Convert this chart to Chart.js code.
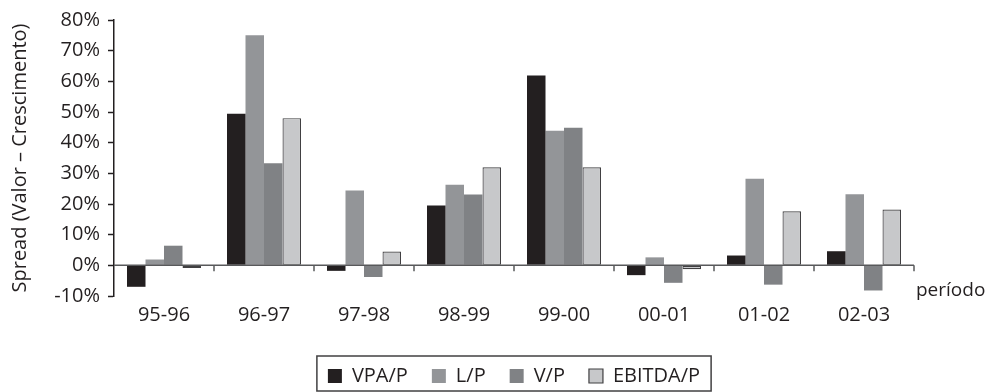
<!DOCTYPE html>
<html>
<head>
<meta charset="utf-8">
<script src="https://cdn.jsdelivr.net/npm/chart.js@4/dist/chart.umd.min.js"></script>
<style>
	html, body { margin: 0; padding: 0; background: #fff; }
	#wrap { width: 987px; height: 392px; }
</style>
</head>
<body>
<div id="wrap"><canvas id="spread-chart"></canvas></div>
<script>
var periodos = ["95-96", "96-97", "97-98", "98-99", "99-00", "00-01", "01-02", "02-03"];
var vpa_p    = [-7.0, 49.4, -1.8, 19.5, 61.9, -3.2,  3.2,  4.6];
var l_p      = [ 1.9, 75.0, 24.4, 26.3, 43.9,  2.6, 28.2, 23.2];
var v_p      = [ 6.4, 33.3, -3.8, 23.1, 44.9, -5.7, -6.3, -8.2];
var ebitda_p = [-0.9, 48.0,  4.5, 32.0, 32.0, -1.3, 17.6, 18.2];
var y_min = -10, y_max = 80, y_step = 10;

var fonte = "'Open Sans', 'DejaVu Sans', sans-serif";
var tinta = "#231f20";

// eixo do zero com marcas entre categorias, rotulo "período" e moldura da legenda
var eixo_zero = {
	id: 'eixoZero',
	afterDatasetsDraw: function(chart) {
		var ctx = chart.ctx;
		var x = chart.scales.x, y = chart.scales.y;
		var y0 = y.getPixelForValue(0);
		var larg = x.width / periodos.length;
		ctx.save();
		ctx.strokeStyle = "#58595b";
		ctx.lineWidth = 1.5;
		ctx.beginPath();
		ctx.moveTo(chart.chartArea.left, y0);
		ctx.lineTo(chart.chartArea.right, y0);
		for (var i = 0; i < periodos.length; i++) {
			var xt = x.getPixelForValue(i) + larg / 2;
			ctx.moveTo(xt, y0);
			ctx.lineTo(xt, y0 + 6);
		}
		ctx.stroke();

		ctx.fillStyle = tinta;
		ctx.font = "19px " + fonte;
		ctx.textAlign = "left";
		ctx.textBaseline = "alphabetic";
		ctx.fillText("período", chart.chartArea.right + 2, 296);
		ctx.restore();
	},
	afterDraw: function(chart) {
		var boxes = chart.legend.legendHitBoxes;
		if (!boxes || !boxes.length) return;
		var ult = boxes[boxes.length - 1];
		var ctx = chart.ctx;
		ctx.save();
		ctx.strokeStyle = "#414042";
		ctx.lineWidth = 1.5;
		ctx.strokeRect(boxes[0].left - 11, boxes[0].top - 10, ult.left + ult.width - boxes[0].left + 22, 35);
		ctx.restore();
	}
};

var spread_chart = new Chart(document.getElementById("spread-chart"), {
	type: 'bar',
	data: {
		labels: periodos,
		datasets: [{
			label: "VPA/P",
			data: vpa_p,
			backgroundColor: "#231f20",
			borderWidth: 0
		}, {
			label: "L/P",
			data: l_p,
			backgroundColor: "#939598",
			borderWidth: 0
		}, {
			label: "V/P",
			data: v_p,
			backgroundColor: "#808285",
			borderWidth: 0
		}, {
			label: "EBITDA/P",
			data: ebitda_p,
			backgroundColor: "#c7c8ca",
			borderColor: "#414042",
			borderWidth: 1.2,
			borderSkipped: false
		}]
	},
	options: {
		responsive: true,
		maintainAspectRatio: false,
		animation: false,
		categoryPercentage: 0.74,
		barPercentage: 1.0,
		layout: {
			padding: { top: 15, left: 8, right: 73, bottom: 0 }
		},
		plugins: {
			tooltip: { enabled: false },
			legend: {
				position: 'bottom',
				fullSize: false,
				maxHeight: 50,
				labels: {
					boxWidth: 14,
					boxHeight: 14,
					padding: 24,
					color: tinta,
					font: { family: fonte, size: 20 }
				}
			}
		},
		scales: {
			x: {
				offset: true,
				grid: { display: false, drawTicks: false },
				border: { display: false },
				ticks: {
					padding: 7,
					color: tinta,
					font: { family: fonte, size: 20 },
					maxRotation: 0
				},
				afterFit: function(scale) { scale.height = 46; }
			},
			y: {
				min: y_min,
				max: y_max,
				grid: {
					drawOnChartArea: false,
					drawTicks: true,
					tickLength: 6,
					tickColor: tinta,
					tickWidth: 1.5
				},
				border: { display: true, color: tinta, width: 1.5 },
				ticks: {
					stepSize: y_step,
					padding: 8,
					color: tinta,
					font: { family: fonte, size: 20 },
					callback: function(v) { return v + "%"; }
				},
				title: {
					display: true,
					text: "Spread (Valor – Crescimento)",
					color: tinta,
					font: { family: fonte, size: 20 },
					padding: { top: 0, bottom: 0 }
				},
				afterFit: function(scale) { scale.width = 106; }
			}
		}
	},
	plugins: [eixo_zero]
});
</script>
</body>
</html>
